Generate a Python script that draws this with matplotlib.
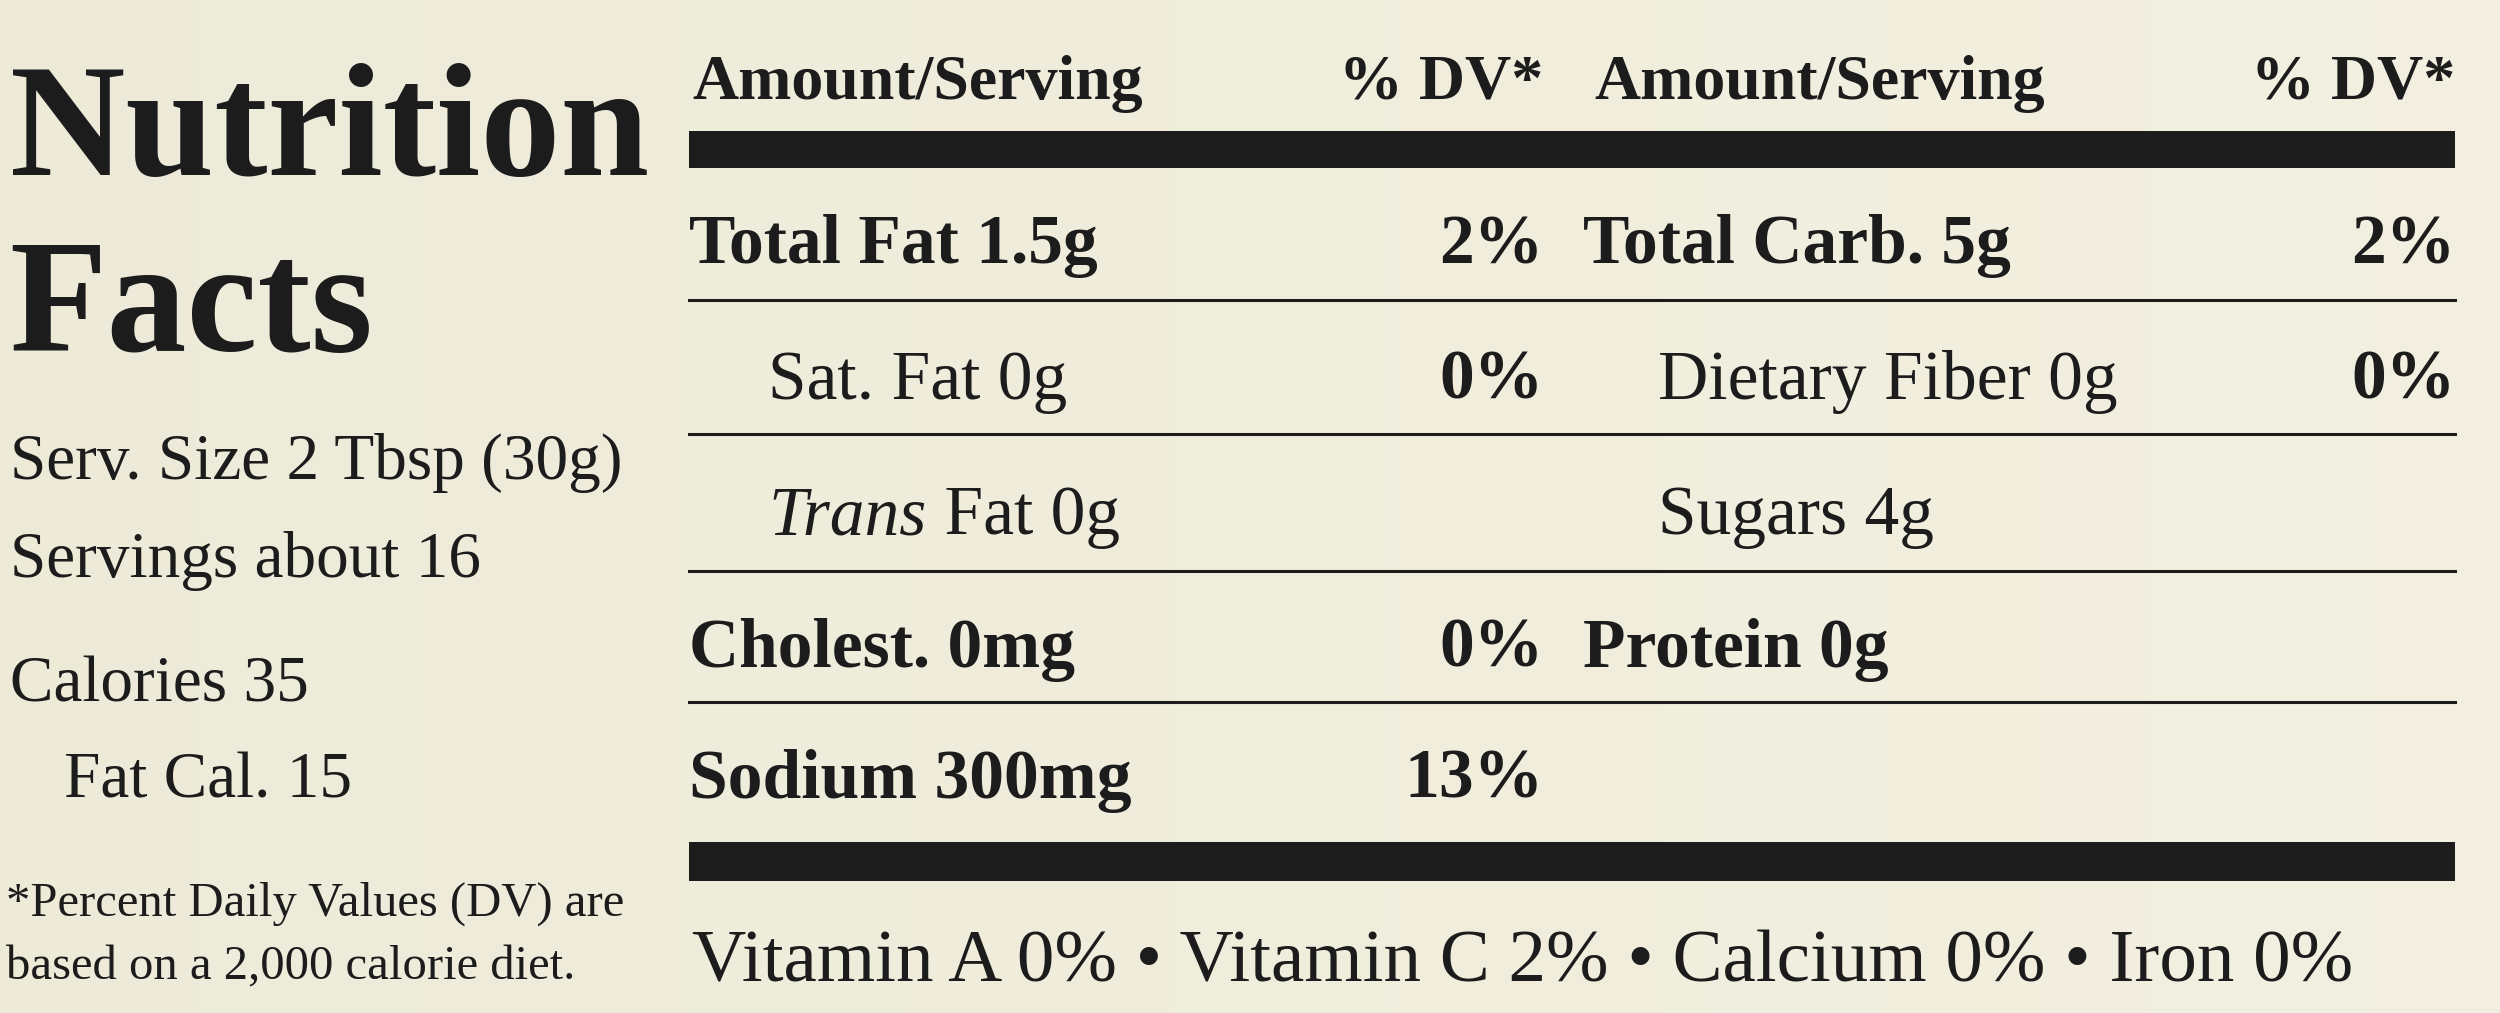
import matplotlib
matplotlib.use("Agg")
import matplotlib.pyplot as plt
import numpy as np

left_info = ["Serv. Size 2 Tbsp (30g)", "Servings about 16", "Calories 35", "Fat Cal. 15"]
footnote = ["*Percent Daily Values (DV) are", "based on a 2,000 calorie diet."]
col1_labels = ["Total Fat 1.5g", "Sat. Fat 0g", "Trans Fat 0g", "Cholest. 0mg", "Sodium 300mg"]
col1_dv = ["2%", "0%", "", "0%", "13%"]
col2_labels = ["Total Carb. 5g", "Dietary Fiber 0g", "Sugars 4g", "Protein 0g", ""]
col2_dv = ["2%", "0%", "", "", ""]
bold1 = [True, False, False, True, True]
indent1 = [False, True, True, False, False]
bold2 = [True, False, False, True, False]
indent2 = [False, True, True, False, False]
vitamins = "Vitamin A 0% • Vitamin C 2% • Calcium 0% • Iron 0%"

W, H = 1568, 635
fig = plt.figure(figsize=(25, 10.13), dpi=100)
ax = fig.add_axes([0, 0, 1, 1])
ax.set_xlim(0, W); ax.set_ylim(H, 0); ax.axis("off")
g = np.linspace(0, 1, 256)
bg = np.zeros((10, 256, 3))
c1 = np.array([0.93, 0.92, 0.85]); c2 = np.array([0.95, 0.94, 0.88])
for i, t in enumerate(g):
    bg[:, i] = c1 * (1 - t) + c2 * t
ax.imshow(bg, extent=[0, W, H, 0], aspect="auto", zorder=0)

ink = "#1c1c1c"
F = "Liberation Serif"
def T(x, y, s, size, weight="normal", ha="left", style="normal"):
    return ax.text(x, y, s, fontsize=size, fontweight=weight, ha=ha, va="baseline",
                   family=F, color=ink, style=style)

T(6, 110, "Nutrition", 115, "bold")
T(6, 220, "Facts", 115, "bold")
T(6, 300, left_info[0], 47)
T(6, 362, left_info[1], 47)
T(6, 440, left_info[2], 47)
T(40, 500, left_info[3], 47)
T(4, 574, footnote[0], 35)
T(4, 614, footnote[1], 35)

T(434, 62, "Amount/Serving", 46, "bold")
T(968, 62, "% DV*", 46, "bold", ha="right")
T(1000, 62, "Amount/Serving", 46, "bold")
T(1540, 62, "% DV*", 46, "bold", ha="right")

ax.fill_between([432, 1540], 82, 105, color=ink, lw=0)
ax.fill_between([432, 1540], 528, 552, color=ink, lw=0)

rows = [165, 250, 335, 418, 500]
lines = [188, 272, 358, 440]
for y in lines:
    ax.plot([432, 1540], [y, y], color=ink, lw=2.2)

RS = 50
fig.canvas.draw()
r = fig.canvas.get_renderer()
for i, y in enumerate(rows):
    x = 482 if indent1[i] else 432
    w = "bold" if bold1[i] else "normal"
    if col1_labels[i].startswith("Trans"):
        t = T(x, y, "Trans", RS, style="italic")
        bb = t.get_window_extent(r)
        x_end = ax.transData.inverted().transform((bb.x1, bb.y0))[0]
        T(x_end, y, " Fat 0g", RS)
    else:
        T(x, y, col1_labels[i], RS, w)
    if col1_dv[i]:
        T(968, y, col1_dv[i], RS, "bold", ha="right")
    x2 = 1040 if indent2[i] else 993
    if col2_labels[i]:
        T(x2, y, col2_labels[i], RS, "bold" if bold2[i] else "normal")
    if col2_dv[i]:
        T(1540, y, col2_dv[i], RS, "bold", ha="right")

T(434, 615, vitamins, 54)
fig.savefig("out.png", dpi=100)
